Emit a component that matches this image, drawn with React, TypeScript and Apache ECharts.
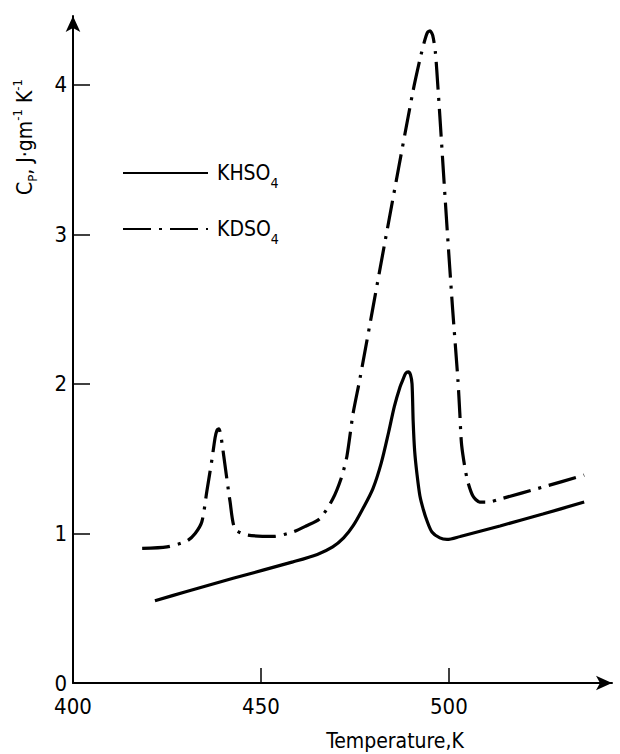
import React, { useEffect, useRef } from "react";
import * as echarts from "echarts";

// KHSO4 (solid)
const khTemp = [421.8, 430, 442.6, 458.5, 465, 469.1, 472, 474.5, 477, 479.8, 482, 484, 485.5, 487, 487.8, 488.5, 489.2, 489.8, 490.2, 490.5, 490.9, 491.5, 492.3, 493.2, 494.1, 495.5, 497.6, 499.5, 503, 513.6, 525, 536];
const khCp = [0.55, 0.61, 0.70, 0.81, 0.86, 0.91, 0.97, 1.05, 1.16, 1.30, 1.47, 1.68, 1.85, 1.98, 2.03, 2.07, 2.08, 2.06, 2.0, 1.75, 1.55, 1.40, 1.25, 1.16, 1.09, 1.01, 0.97, 0.96, 0.98, 1.05, 1.13, 1.21];

// KDSO4 (dash-dot)
const kdTemp = [418.4, 425, 430.3, 432.5, 434.3, 435.6, 437.0, 437.8, 438.3, 438.8, 439.3, 440.1, 441.8, 443.1, 446.3, 453.2, 458.5, 462, 465.7, 469.1, 471.5, 472.9, 474.5, 476.3, 483, 490.4, 492.3, 493.5, 494.3, 495.0, 495.7, 496.4, 497.1, 497.6, 499.5, 501, 502.4, 502.9, 503.4, 504.8, 506.4, 508.2, 510.5, 513.6, 525, 536];
const kdCp = [0.90, 0.91, 0.95, 1.00, 1.08, 1.28, 1.50, 1.64, 1.69, 1.70, 1.66, 1.52, 1.21, 1.03, 0.99, 0.98, 1.01, 1.05, 1.10, 1.23, 1.38, 1.52, 1.80, 2.03, 2.95, 3.95, 4.17, 4.29, 4.35, 4.36, 4.33, 4.22, 3.98, 3.79, 3.05, 2.50, 2.03, 1.81, 1.59, 1.37, 1.25, 1.21, 1.21, 1.23, 1.31, 1.39];

const seriesNames = ["KHSO4", "KDSO4"];
const xTicks = { min: 400, max: 543.4, interval: 50 };
const yTicks = { min: 0, max: 4.46, interval: 1 };
const xName = "Temperature,K";

const FONT = "'DejaVu Sans Condensed', 'DejaVu Sans', sans-serif";

export default function App() {
  const ref = useRef<HTMLDivElement>(null);
  useEffect(() => {
    document.body.style.margin = "0";
    const chart = echarts.init(ref.current!, null, { renderer: "svg" });
    const pairs = (t: number[], c: number[]) => t.map((v, i) => [v, c[i]]);
    chart.setOption({
      animation: false,
      backgroundColor: "#fff",
      grid: { left: 73, right: 8, top: 16, bottom: 71 },
      legend: {
        left: 122,
        top: 161,
        orient: "vertical",
        padding: 0,
        itemWidth: 85,
        itemHeight: 14,
        itemGap: 27,
        data: seriesNames,
        itemStyle: { opacity: 0 },
        formatter: (n: string) => n.replace("4", "{s|4}"),
        textStyle: {
          fontFamily: FONT,
          fontSize: 21,
          color: "#000",
          padding: [0, 0, 0, 4],
          lineHeight: 24,
          rich: { s: { fontFamily: FONT, fontSize: 14, verticalAlign: "bottom", lineHeight: 14, padding: [0, 0, -5, 0] } },
        },
      },
      xAxis: {
        type: "value",
        min: xTicks.min,
        max: xTicks.max,
        interval: xTicks.interval,
        splitLine: { show: false },
        axisLine: { lineStyle: { color: "#000", width: 2 }, symbol: ["none", "arrow"], symbolSize: [11, 16] },
        axisTick: { inside: true, length: 15, lineStyle: { color: "#000", width: 1.5 } },
        axisLabel: { color: "#000", fontFamily: FONT, fontSize: 22, margin: 12, showMaxLabel: false },
      },
      yAxis: {
        type: "value",
        min: yTicks.min,
        max: yTicks.max,
        interval: yTicks.interval,
        splitLine: { show: false },
        axisLine: { lineStyle: { color: "#000", width: 2 }, symbol: ["none", "arrow"], symbolSize: [11, 16] },
        axisTick: { inside: true, length: 17, lineStyle: { color: "#000", width: 1.5 } },
        axisLabel: { color: "#000", fontFamily: FONT, fontSize: 22, margin: 6, showMaxLabel: false },
      },
      graphic: [
        {
          type: "text",
          x: 395,
          y: 741,
          style: { text: xName, fontFamily: FONT, fontSize: 21, fill: "#000", align: "center", verticalAlign: "middle" },
        },
        {
          type: "text",
          x: 25,
          y: 137,
          rotation: Math.PI / 2,
          style: {
            text: "C{sub|P}, J·gm{sup|-1} K{sup|-1}",
            fontFamily: FONT,
            fontSize: 21,
            lineHeight: 28,
            fill: "#000",
            align: "center",
            verticalAlign: "middle",
            rich: {
              sub: { fontFamily: FONT, fontSize: 13, lineHeight: 13, verticalAlign: "bottom", fill: "#000" },
              sup: { fontFamily: FONT, fontSize: 13, lineHeight: 13, verticalAlign: "top", fill: "#000" },
            },
          },
        },
      ],
      series: [
        {
          name: seriesNames[0],
          type: "line",
          data: pairs(khTemp, khCp),
          smooth: 0.3,
          symbol: "none",
          lineStyle: { color: "#000", width: 3.2 },
          itemStyle: { color: "#000" },
        },
        {
          name: seriesNames[1],
          type: "line",
          data: pairs(kdTemp, kdCp),
          smooth: 0.25,
          symbol: "none",
          lineStyle: { color: "#000", width: 3.2, type: [28, 8, 3, 8] },
          itemStyle: { color: "#000" },
        },
      ],
    });
    return () => chart.dispose();
  }, []);
  return <div ref={ref} style={{ width: 620, height: 754 }} />;
}
